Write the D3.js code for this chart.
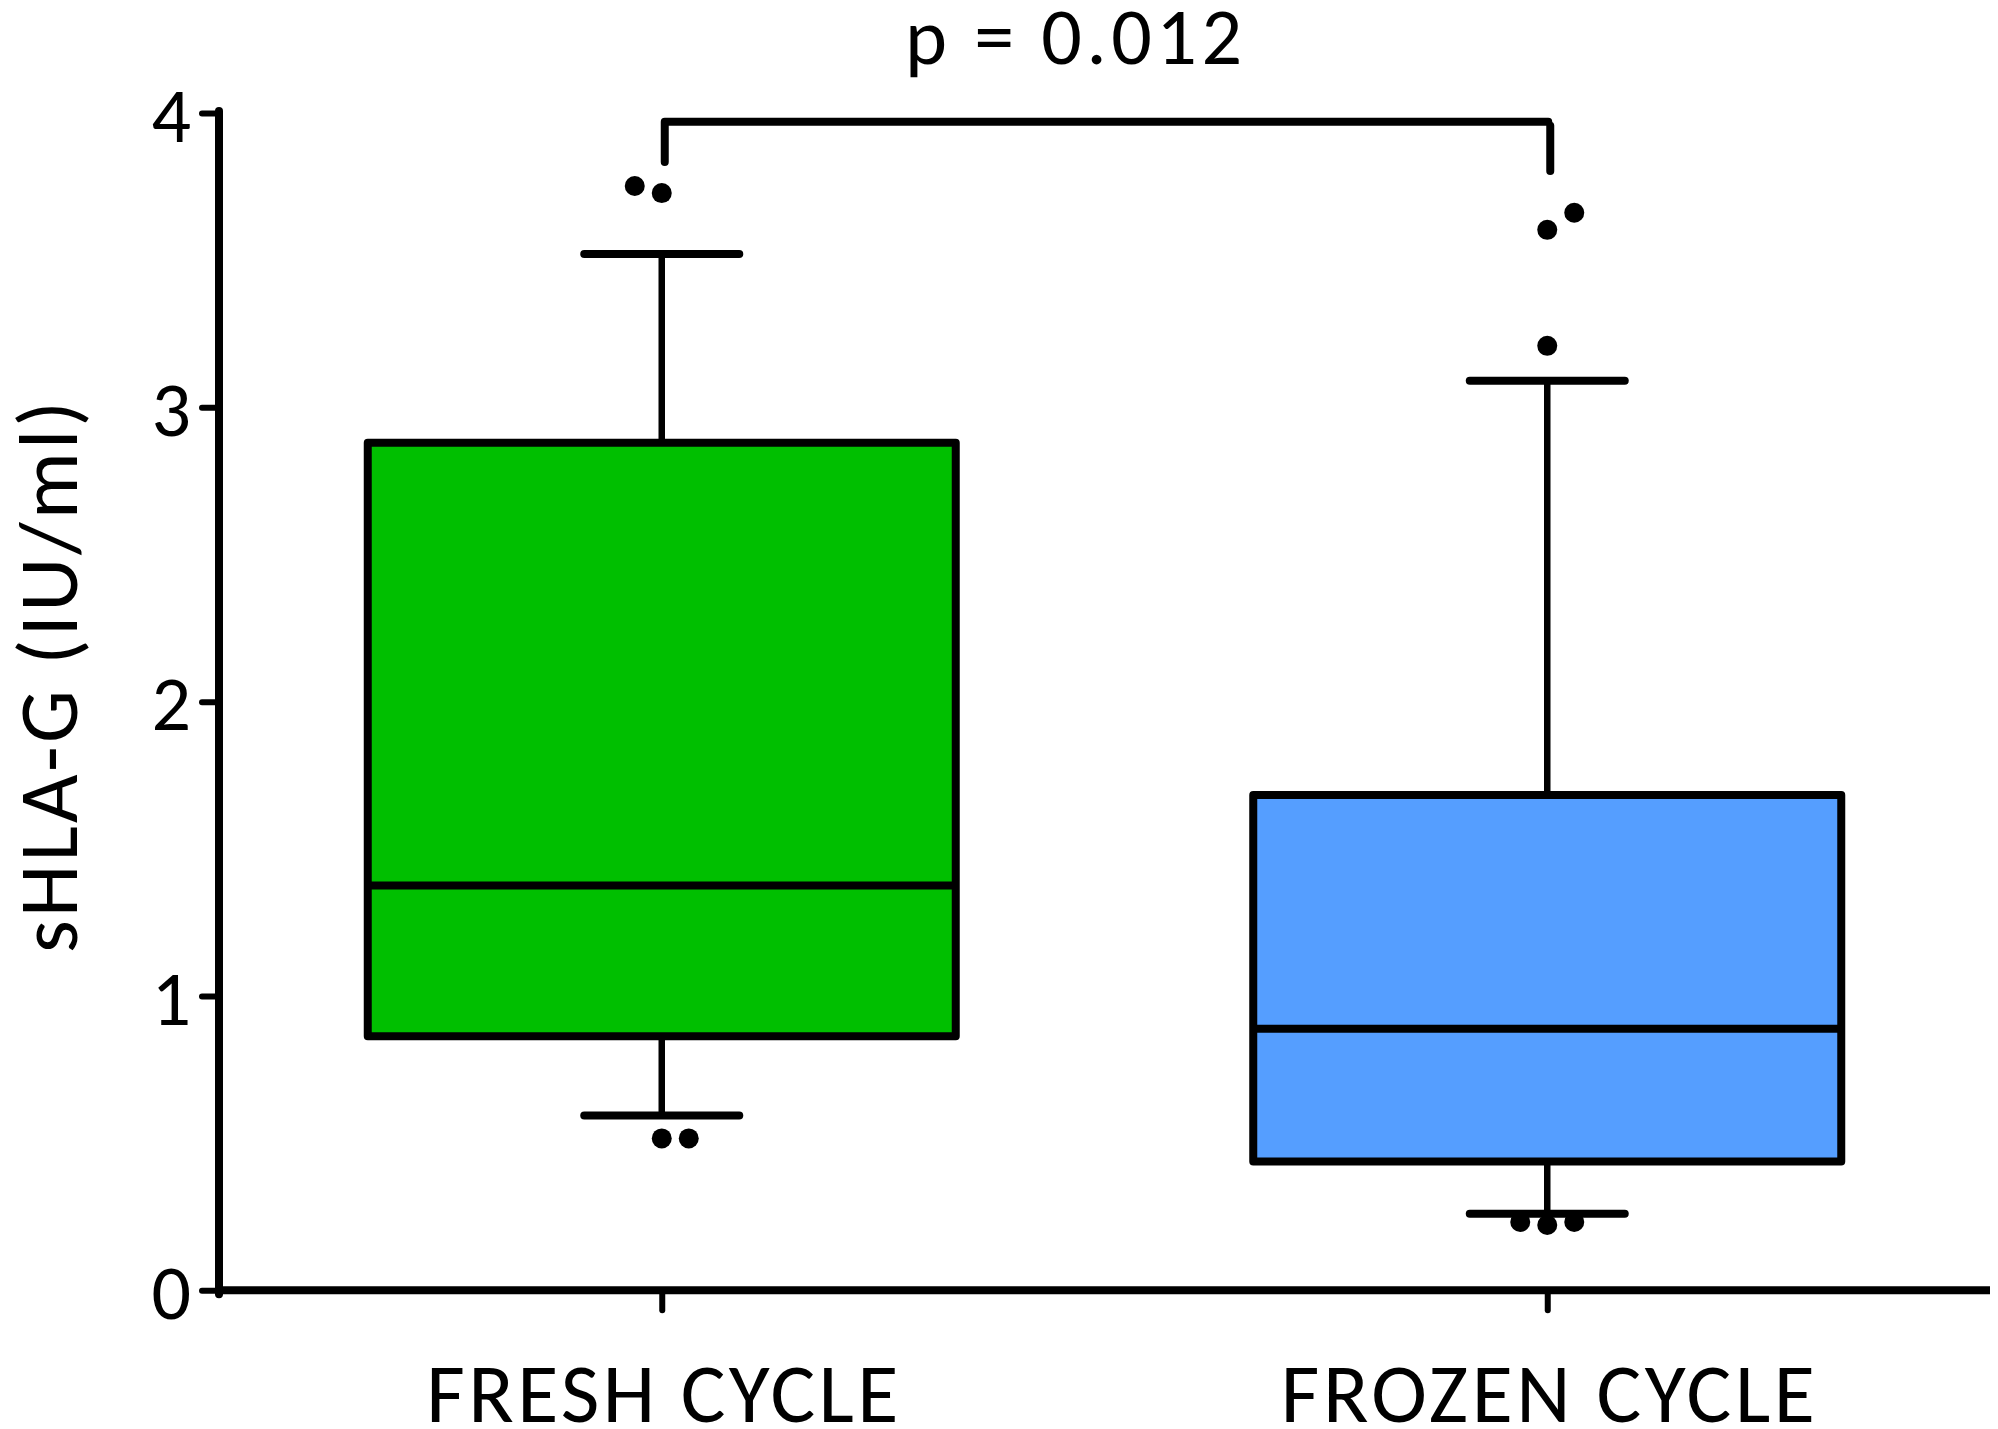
<!DOCTYPE html>
<html>
<head>
<meta charset="utf-8">
<script src="https://cdn.jsdelivr.net/npm/d3@7"></script>
<style>
  html, body { margin: 0; padding: 0; background: #fff; }
  svg { display: block; }
  text { font-family: Carlito, Calibri, Lato, "Open Sans", sans-serif; fill: #000; }
</style>
</head>
<body>
<svg id="chart" width="1998" height="1429"></svg>
<script>
// ---- data ----
const categories = ["FRESH CYCLE", "FROZEN CYCLE"];
const boxColors = ["#00BF00", "#559EFF"];
const q1Values = [0.863, 0.438];
const medianValues = [1.375, 0.889];
const q3Values = [2.88, 1.683];
const whiskerLow = [0.594, 0.26];
const whiskerHigh = [3.521, 3.09];
// outliers: [categoryIndex, value, horizontal jitter slot]
const outliers = [
  [0, 3.752, -1], [0, 3.728, 0],
  [0, 0.516, 0], [0, 0.516, 1],
  [1, 3.603, 0], [1, 3.661, 1], [1, 3.209, 0],
  [1, 0.232, -1], [1, 0.222, 0], [1, 0.232, 1]
];
const yTicks = [0, 1, 2, 3, 4];
const yLabel = "sHLA-G (IU/ml)";
const pLabel = "p = 0.012";

// ---- layout ----
const svg = d3.select("#chart");
const mLeft = 219, mRight = 1990, mTop = 113, mBottom = 1290.3;
const fontFam = "Carlito, Calibri, Lato, sans-serif";

const x = d3.scalePoint().domain(categories).range([mLeft, mRight]).padding(0.5);
const y = d3.scaleLinear().domain([0, 4]).range([mBottom, mTop]);

const boxW = 588, capW = 155, dotR = 10, dotStep = 27;

// boxes
categories.forEach((c, i) => {
  const cx = x(c);
  const g = svg.append("g");
  g.append("line").attr("x1", cx).attr("x2", cx)
    .attr("y1", y(q3Values[i])).attr("y2", y(whiskerHigh[i]))
    .attr("stroke", "#000").attr("stroke-width", 6.5);
  g.append("line").attr("x1", cx).attr("x2", cx)
    .attr("y1", y(q1Values[i])).attr("y2", y(whiskerLow[i]))
    .attr("stroke", "#000").attr("stroke-width", 6.5);
  [whiskerHigh[i], whiskerLow[i]].forEach(v => {
    g.append("line").attr("x1", cx - capW / 2).attr("x2", cx + capW / 2)
      .attr("y1", y(v)).attr("y2", y(v))
      .attr("stroke", "#000").attr("stroke-width", 8).attr("stroke-linecap", "round");
  });
  g.append("rect")
    .attr("x", cx - boxW / 2).attr("width", boxW)
    .attr("y", y(q3Values[i])).attr("height", y(q1Values[i]) - y(q3Values[i]))
    .attr("fill", boxColors[i]).attr("stroke", "#000").attr("stroke-width", 8)
    .attr("stroke-linejoin", "round");
  g.append("line").attr("x1", cx - boxW / 2).attr("x2", cx + boxW / 2)
    .attr("y1", y(medianValues[i])).attr("y2", y(medianValues[i]))
    .attr("stroke", "#000").attr("stroke-width", 8);
});

// outliers
svg.append("g").selectAll("circle").data(outliers).join("circle")
  .attr("cx", d => x(categories[d[0]]) + d[2] * dotStep)
  .attr("cy", d => y(d[1]))
  .attr("r", dotR).attr("fill", "#000");

// y axis
const yAxis = d3.axisLeft(y).tickValues(yTicks).tickFormat(d3.format("d"))
  .tickSize(17).tickSizeOuter(0).tickPadding(11);
const ya = svg.append("g").attr("transform", `translate(${mLeft},0)`).call(yAxis);
ya.select(".domain").attr("stroke", "#000").attr("stroke-width", 8)
  .attr("stroke-linecap", "round")
  .attr("d", `M0,${mTop - 2}V${mBottom + 4}`);
ya.selectAll(".tick line").attr("stroke", "#000").attr("stroke-width", 6).attr("stroke-linecap", "round");
ya.selectAll(".tick text").attr("font-size", 78).attr("font-family", fontFam)
  .attr("dy", "0.36em").attr("fill", "#000");

// x axis
const xLabelLen = [472, 534];
const xAxis = d3.axisBottom(x).tickSize(20).tickSizeOuter(0).tickPadding(0);
const xa = svg.append("g").attr("transform", `translate(0,${mBottom})`).call(xAxis);
xa.select(".domain").attr("stroke", "#000").attr("stroke-width", 8)
  .attr("d", `M${mLeft - 4},0H${mRight}`);
xa.selectAll(".tick line").attr("stroke", "#000").attr("stroke-width", 6).attr("stroke-linecap", "round");
xa.selectAll(".tick text").attr("font-size", 84).attr("font-family", fontFam)
  .attr("fill", "#000").attr("y", 132).attr("dy", 0)
  .attr("textLength", (d, i) => xLabelLen[i]).attr("lengthAdjust", "spacing");

// y label
svg.append("text")
  .attr("transform", `translate(77,677) rotate(-90)`)
  .attr("text-anchor", "middle")
  .attr("font-size", 84)
  .attr("textLength", 552).attr("lengthAdjust", "spacing")
  .text(yLabel);

// significance bracket
const bx1 = x(categories[0]) + 3, bx2 = x(categories[1]) + 3;
const by = 121.7;
svg.append("path")
  .attr("d", `M${bx1},162V${by}H${bx2 - 2}`)
  .attr("fill", "none").attr("stroke", "#000").attr("stroke-width", 8)
  .attr("stroke-linecap", "round").attr("stroke-linejoin", "round");
svg.append("path")
  .attr("d", `M${bx2},${by + 4}V171`)
  .attr("fill", "none").attr("stroke", "#000").attr("stroke-width", 8)
  .attr("stroke-linecap", "round");
svg.append("text")
  .attr("x", 1073.5).attr("y", 64)
  .attr("text-anchor", "middle").attr("font-size", 80)
  .attr("textLength", 337).attr("lengthAdjust", "spacing")
  .text(pLabel);
</script>
</body>
</html>
